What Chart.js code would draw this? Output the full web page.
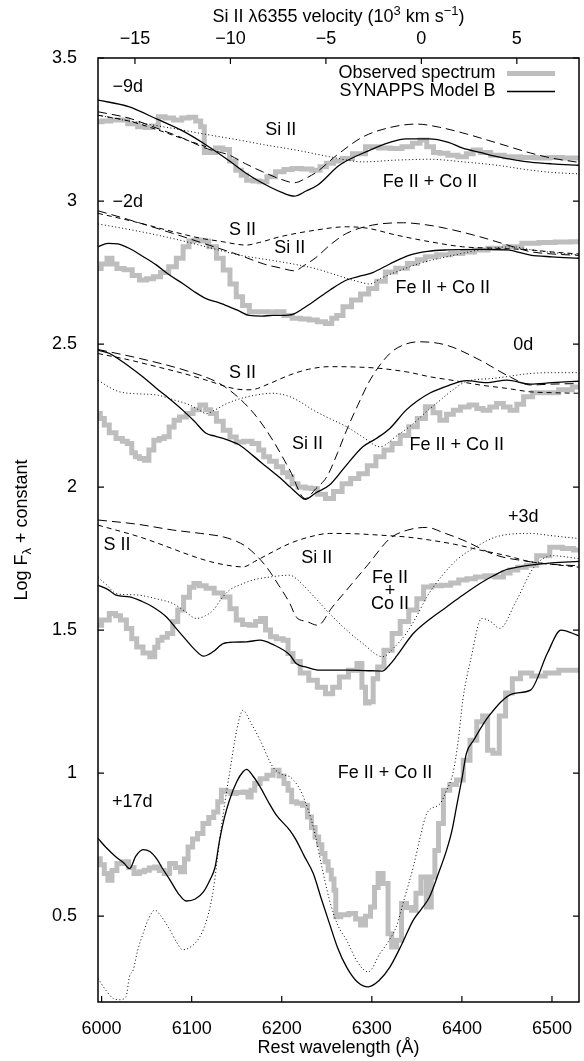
<!DOCTYPE html>
<html>
<head>
<meta charset="utf-8">
<script src="https://cdn.jsdelivr.net/npm/chart.js@4.4.1/dist/chart.umd.min.js"></script>
<style>
  html, body { margin: 0; padding: 0; background: #fff; }
  canvas { display: block; }
</style>
</head>
<body>
<canvas id="chart" width="584" height="1061"></canvas>
<script>
// Axis ranges and tick values
const WAVE_MIN = 5996, WAVE_MAX = 6530;
const LOG_MIN = 0.2, LOG_MAX = 3.5;
const SI_REST = 6355, C_KMS = 299792.458;
const waveTicks = [6000, 6100, 6200, 6300, 6400, 6500];
const velTicks = [-15, -10, -5, 0, 5];
const logTicks = [0.5, 1, 1.5, 2, 2.5, 3, 3.5];

// -9d : [wavelength (Å), log F + constant]
const obsM9 = [[5996,3.277],[6005,3.28],[6015,3.283],[6023,3.283],[6035,3.27],[6045,3.26],[6052,3.257],[6060,3.262],[6066,3.295],[6075,3.29],[6085,3.283],[6093,3.29],[6101,3.293],[6108,3.28],[6112,3.26],[6116,3.17],[6122,3.17],[6131,3.185],[6138,3.18],[6146,3.14],[6152,3.108],[6158,3.09],[6164,3.073],[6172,3.07],[6179,3.067],[6188,3.085],[6198,3.102],[6207,3.11],[6216,3.114],[6228,3.112],[6239,3.108],[6246,3.12],[6253,3.132],[6262,3.14],[6272,3.149],[6285,3.165],[6301,3.19],[6314,3.185],[6327,3.184],[6340,3.19],[6350,3.202],[6357,3.213],[6365,3.19],[6372,3.17],[6379,3.167],[6390,3.16],[6401,3.155],[6409,3.165],[6416,3.178],[6425,3.17],[6439,3.16],[6455,3.155],[6475,3.152],[6490,3.15],[6505,3.152],[6518,3.15],[6530,3.15]];
const modelM9 = [[5996,3.353],[6030,3.33],[6061,3.287],[6090,3.245],[6116,3.196],[6142,3.14],[6160,3.098],[6179,3.062],[6200,3.03],[6214,3.017],[6227,3.035],[6240,3.056],[6264,3.125],[6298,3.178],[6320,3.205],[6338,3.217],[6364,3.217],[6385,3.205],[6401,3.185],[6420,3.17],[6439,3.155],[6460,3.143],[6476,3.136],[6500,3.13],[6530,3.125]];
const siM9 = [[5996,3.312],[6030,3.29],[6061,3.255],[6090,3.22],[6116,3.184],[6142,3.16],[6160,3.13],[6179,3.102],[6200,3.075],[6214,3.064],[6227,3.08],[6239,3.102],[6261,3.16],[6290,3.224],[6320,3.257],[6350,3.269],[6375,3.258],[6401,3.238],[6439,3.203],[6476,3.168],[6500,3.15],[6530,3.135]];
const sM9 = [[5996,3.30],[6030,3.28],[6061,3.25],[6090,3.218],[6116,3.19]];
const feM9 = [[5996,3.30],[6030,3.28],[6079,3.254],[6116,3.233],[6153,3.213],[6180,3.197],[6216,3.178],[6253,3.155],[6290,3.137],[6327,3.143],[6364,3.146],[6401,3.137],[6439,3.125],[6476,3.108],[6500,3.10],[6530,3.095]];

// -2d
const obsM2 = [[5996,2.764],[6003,2.78],[6009,2.80],[6014,2.78],[6020,2.764],[6030,2.76],[6038,2.74],[6046,2.724],[6054,2.728],[6061,2.735],[6070,2.75],[6079,2.77],[6087,2.80],[6094,2.84],[6100,2.86],[6105,2.864],[6114,2.86],[6124,2.84],[6131,2.80],[6139,2.759],[6146,2.71],[6153,2.665],[6160,2.635],[6168,2.613],[6180,2.613],[6190,2.612],[6198,2.613],[6207,2.60],[6216,2.59],[6226,2.588],[6235,2.584],[6244,2.578],[6253,2.572],[6258,2.59],[6264,2.60],[6272,2.63],[6283,2.654],[6292,2.675],[6301,2.694],[6310,2.72],[6320,2.752],[6333,2.765],[6346,2.782],[6355,2.795],[6364,2.805],[6380,2.812],[6394,2.817],[6408,2.822],[6420,2.829],[6438,2.835],[6457,2.84],[6476,2.852],[6495,2.855],[6512,2.857],[6530,2.858]];
const modelM2 = [[5996,2.84],[6007,2.852],[6018,2.85],[6031,2.834],[6046,2.806],[6061,2.776],[6075,2.742],[6090,2.712],[6103,2.683],[6116,2.659],[6130,2.645],[6142,2.63],[6153,2.615],[6164,2.60],[6178,2.598],[6190,2.60],[6200,2.60],[6213,2.605],[6224,2.625],[6235,2.648],[6254,2.69],[6272,2.724],[6290,2.74],[6301,2.75],[6320,2.78],[6342,2.811],[6362,2.824],[6383,2.829],[6420,2.831],[6450,2.829],[6476,2.811],[6500,2.805],[6530,2.80]];
const siM2 = [[5996,2.966],[6030,2.935],[6079,2.887],[6120,2.845],[6153,2.811],[6180,2.78],[6200,2.765],[6214,2.756],[6225,2.775],[6237,2.80],[6255,2.85],[6272,2.887],[6301,2.916],[6335,2.924],[6360,2.917],[6383,2.904],[6420,2.875],[6457,2.84],[6476,2.823],[6500,2.815],[6530,2.81]];
const sM2 = [[5996,2.957],[6040,2.925],[6079,2.893],[6110,2.87],[6134,2.858],[6150,2.849],[6160,2.846],[6175,2.855],[6198,2.875],[6237,2.898],[6272,2.91],[6295,2.905],[6327,2.881],[6364,2.858],[6401,2.84],[6438,2.835],[6476,2.829],[6500,2.822],[6530,2.815]];
const feM2 = [[5996,2.92],[6040,2.895],[6079,2.869],[6116,2.84],[6153,2.811],[6180,2.797],[6209,2.782],[6237,2.764],[6272,2.73],[6290,2.714],[6298,2.71],[6310,2.73],[6327,2.752],[6353,2.782],[6383,2.805],[6420,2.829],[6457,2.84],[6476,2.83],[6500,2.82],[6530,2.812]];

// 0d
const obsD0 = [[5996,2.257],[6001,2.24],[6005,2.217],[6012,2.19],[6020,2.17],[6026,2.16],[6031,2.152],[6036,2.12],[6039,2.106],[6045,2.10],[6050,2.094],[6055,2.13],[6061,2.164],[6067,2.17],[6072,2.176],[6078,2.21],[6083,2.234],[6090,2.245],[6098,2.257],[6105,2.27],[6113,2.287],[6118,2.27],[6124,2.257],[6131,2.23],[6139,2.199],[6146,2.175],[6153,2.158],[6162,2.16],[6172,2.152],[6177,2.13],[6183,2.106],[6190,2.09],[6198,2.071],[6204,2.05],[6209,2.036],[6214,2.012],[6222,2.00],[6230,1.997],[6235,1.995],[6244,1.975],[6253,1.96],[6262,1.985],[6272,2.012],[6281,2.03],[6290,2.047],[6300,2.075],[6309,2.106],[6318,2.13],[6327,2.152],[6336,2.18],[6346,2.211],[6355,2.24],[6364,2.281],[6372,2.26],[6379,2.234],[6387,2.255],[6394,2.269],[6403,2.28],[6413,2.287],[6420,2.275],[6427,2.269],[6435,2.28],[6442,2.292],[6450,2.28],[6457,2.269],[6465,2.29],[6472,2.316],[6485,2.33],[6500,2.33],[6515,2.34],[6530,2.35]];
const modelD0 = [[5996,2.479],[6009,2.467],[6020,2.445],[6031,2.421],[6046,2.385],[6061,2.345],[6076,2.307],[6090,2.269],[6103,2.23],[6116,2.188],[6126,2.178],[6135,2.17],[6153,2.147],[6168,2.11],[6183,2.071],[6197,2.035],[6209,2.001],[6218,1.975],[6226,1.957],[6238,1.98],[6253,2.007],[6270,2.07],[6290,2.141],[6305,2.17],[6320,2.205],[6338,2.269],[6350,2.30],[6364,2.328],[6385,2.355],[6405,2.372],[6427,2.365],[6450,2.374],[6476,2.36],[6500,2.365],[6530,2.37]];
const siD0 = [[5996,2.481],[6042,2.45],[6098,2.403],[6131,2.362],[6153,2.31],[6172,2.246],[6190,2.164],[6209,2.059],[6226,1.96],[6238,1.995],[6250,2.036],[6262,2.12],[6272,2.199],[6285,2.29],[6298,2.374],[6320,2.467],[6336,2.498],[6353,2.508],[6383,2.496],[6420,2.444],[6453,2.386],[6476,2.357],[6500,2.36],[6530,2.362]];
const sD0 = [[5996,2.467],[6030,2.445],[6061,2.421],[6090,2.398],[6116,2.374],[6146,2.345],[6160,2.34],[6168,2.341],[6185,2.36],[6209,2.392],[6230,2.412],[6253,2.421],[6280,2.42],[6309,2.415],[6340,2.402],[6364,2.386],[6392,2.372],[6420,2.357],[6450,2.345],[6476,2.333],[6500,2.33],[6530,2.328]];
const feD0 = [[5996,2.374],[6008,2.35],[6020,2.333],[6040,2.326],[6061,2.322],[6080,2.305],[6098,2.287],[6108,2.27],[6116,2.257],[6126,2.27],[6139,2.292],[6155,2.31],[6172,2.322],[6190,2.328],[6209,2.316],[6222,2.295],[6235,2.269],[6253,2.24],[6272,2.211],[6290,2.175],[6309,2.141],[6328,2.18],[6346,2.222],[6360,2.262],[6376,2.304],[6390,2.34],[6405,2.369],[6435,2.38],[6476,2.397],[6500,2.40],[6530,2.40]];

// +3d
const obsP3 = [[5996,1.517],[6004,1.535],[6013,1.558],[6018,1.55],[6024,1.535],[6031,1.506],[6036,1.47],[6042,1.441],[6050,1.42],[6057,1.407],[6061,1.44],[6064,1.465],[6070,1.475],[6076,1.488],[6082,1.53],[6087,1.57],[6095,1.615],[6100,1.65],[6105,1.663],[6112,1.655],[6120,1.646],[6130,1.63],[6139,1.616],[6146,1.575],[6153,1.535],[6160,1.52],[6168,1.517],[6174,1.53],[6179,1.541],[6185,1.50],[6190,1.477],[6198,1.47],[6205,1.465],[6209,1.418],[6216,1.39],[6225,1.35],[6235,1.325],[6244,1.30],[6253,1.278],[6260,1.30],[6268,1.336],[6280,1.36],[6287,1.383],[6291,1.30],[6295,1.245],[6299,1.25],[6304,1.33],[6309,1.371],[6318,1.43],[6327,1.488],[6336,1.53],[6346,1.57],[6354,1.61],[6361,1.651],[6372,1.655],[6383,1.657],[6392,1.665],[6401,1.675],[6410,1.68],[6420,1.686],[6431,1.69],[6442,1.686],[6450,1.70],[6457,1.71],[6467,1.72],[6476,1.727],[6490,1.76],[6505,1.79],[6518,1.785],[6530,1.78]];
const modelP3 = [[5996,1.657],[6008,1.64],[6016,1.622],[6031,1.616],[6045,1.60],[6057,1.581],[6072,1.546],[6083,1.505],[6094,1.465],[6104,1.43],[6113,1.409],[6124,1.425],[6135,1.453],[6148,1.458],[6161,1.459],[6176,1.465],[6190,1.45],[6209,1.413],[6216,1.383],[6228,1.37],[6242,1.36],[6272,1.36],[6300,1.358],[6312,1.357],[6320,1.38],[6327,1.407],[6346,1.488],[6365,1.54],[6383,1.581],[6400,1.62],[6420,1.663],[6435,1.69],[6450,1.712],[6465,1.722],[6476,1.727],[6500,1.735],[6530,1.74]];
const siP3 = [[5996,1.885],[6040,1.87],[6079,1.85],[6110,1.838],[6135,1.826],[6150,1.81],[6161,1.791],[6172,1.76],[6183,1.721],[6196,1.66],[6209,1.593],[6216,1.546],[6228,1.53],[6240,1.517],[6256,1.58],[6272,1.64],[6296,1.73],[6320,1.82],[6340,1.85],[6361,1.859],[6380,1.84],[6401,1.815],[6438,1.762],[6476,1.739],[6500,1.73],[6530,1.725]];
const sP3 = [[5996,1.867],[6042,1.826],[6070,1.795],[6098,1.762],[6120,1.74],[6139,1.727],[6157,1.721],[6170,1.74],[6183,1.762],[6209,1.803],[6230,1.825],[6253,1.838],[6280,1.837],[6309,1.832],[6340,1.825],[6364,1.815],[6392,1.80],[6420,1.78],[6450,1.76],[6476,1.739],[6500,1.73],[6530,1.72]];
const feP3 = [[5996,1.684],[6005,1.66],[6016,1.628],[6030,1.624],[6042,1.622],[6060,1.61],[6079,1.593],[6093,1.565],[6105,1.541],[6115,1.55],[6124,1.57],[6133,1.61],[6142,1.64],[6155,1.66],[6168,1.675],[6190,1.687],[6209,1.692],[6216,1.68],[6235,1.62],[6253,1.558],[6272,1.50],[6290,1.453],[6312,1.407],[6325,1.44],[6338,1.488],[6350,1.55],[6361,1.616],[6378,1.69],[6394,1.745],[6415,1.79],[6438,1.826],[6476,1.838],[6500,1.83],[6530,1.82]];

// +17d
const obsP17 = [[5996,0.701],[6001,0.68],[6005,0.649],[6009,0.626],[6014,0.66],[6020,0.684],[6027,0.69],[6033,0.67],[6039,0.649],[6045,0.655],[6050,0.661],[6056,0.668],[6061,0.672],[6067,0.66],[6072,0.649],[6079,0.684],[6085,0.67],[6090,0.655],[6094,0.70],[6098,0.742],[6104,0.77],[6109,0.789],[6116,0.824],[6122,0.845],[6127,0.864],[6131,0.90],[6135,0.94],[6141,0.935],[6146,0.929],[6153,0.932],[6161,0.934],[6164,0.917],[6168,0.94],[6172,0.964],[6180,0.98],[6187,0.993],[6194,1.01],[6200,0.99],[6205,0.964],[6209,0.94],[6213,0.90],[6220,0.895],[6226,0.888],[6231,0.847],[6235,0.81],[6239,0.777],[6243,0.75],[6246,0.719],[6250,0.69],[6253,0.661],[6257,0.63],[6259,0.591],[6261,0.498],[6270,0.505],[6279,0.509],[6285,0.49],[6290,0.469],[6296,0.50],[6301,0.532],[6305,0.60],[6309,0.649],[6316,0.614],[6320,0.439],[6324,0.392],[6331,0.416],[6335,0.544],[6342,0.53],[6346,0.521],[6352,0.58],[6357,0.637],[6364,0.532],[6368,0.637],[6372,0.73],[6376,0.824],[6383,0.94],[6390,0.96],[6398,0.976],[6405,1.045],[6413,1.115],[6420,1.18],[6426,1.2],[6431,1.08],[6438,1.07],[6445,1.2],[6452,1.28],[6460,1.33],[6470,1.35],[6485,1.34],[6500,1.35],[6515,1.36],[6530,1.36]];
const modelP17 = [[5996,0.772],[6005,0.74],[6016,0.707],[6025,0.685],[6031,0.666],[6038,0.71],[6046,0.733],[6054,0.725],[6061,0.701],[6068,0.665],[6076,0.626],[6085,0.58],[6094,0.553],[6104,0.56],[6113,0.585],[6120,0.625],[6126,0.672],[6131,0.766],[6136,0.84],[6142,0.906],[6150,0.97],[6157,1.005],[6161,1.013],[6168,0.99],[6176,0.952],[6185,0.90],[6194,0.853],[6209,0.80],[6216,0.766],[6225,0.71],[6235,0.649],[6244,0.56],[6253,0.474],[6262,0.39],[6272,0.322],[6284,0.27],[6296,0.253],[6308,0.275],[6320,0.322],[6333,0.40],[6346,0.486],[6355,0.525],[6364,0.567],[6374,0.65],[6383,0.731],[6389,0.80],[6394,0.882],[6400,0.98],[6405,1.069],[6413,1.115],[6430,1.2],[6457,1.278],[6476,1.29],[6495,1.42],[6510,1.50],[6530,1.48]];
const feP17 = [[5996,0.282],[6005,0.24],[6013,0.212],[6020,0.208],[6027,0.218],[6031,0.29],[6035,0.311],[6040,0.38],[6046,0.439],[6052,0.49],[6059,0.521],[6066,0.50],[6076,0.451],[6083,0.41],[6090,0.383],[6100,0.395],[6109,0.428],[6117,0.49],[6124,0.591],[6131,0.766],[6137,0.90],[6142,0.999],[6150,1.15],[6157,1.22],[6165,1.18],[6176,1.115],[6190,1.022],[6200,0.996],[6209,0.987],[6218,0.955],[6224,0.917],[6235,0.812],[6244,0.68],[6253,0.556],[6262,0.47],[6272,0.416],[6284,0.34],[6296,0.305],[6309,0.369],[6318,0.41],[6327,0.462],[6336,0.56],[6346,0.672],[6354,0.78],[6361,0.859],[6376,0.894],[6383,0.94],[6390,0.999],[6396,1.115],[6401,1.255],[6410,1.4],[6422,1.541],[6432,1.53],[6442,1.506],[6460,1.6],[6480,1.72],[6500,1.76],[6530,1.75]];

// Text placed inside the plot: label, wavelength, log F (text centre)
const noteText = ['\u22129d', '\u22122d', '0d', '+3d', '+17d',
  'Si II', 'Fe II + Co II',
  'S II', 'Si II', 'Fe II + Co II',
  'S II', 'Si II', 'Fe II + Co II',
  'S II', 'Si II', 'Fe II', '+', 'Co II',
  'Fe II + Co II'];
const noteWave = [6029, 6029, 6468, 6468, 6034,
  6199, 6364.6,
  6156.4, 6209, 6378.8,
  6156.4, 6228.6, 6394.2,
  6017, 6238.8, 6320.2, 6320.2, 6320.2,
  6314.6];
const noteLog = [3.397, 2.995, 2.497, 1.894, 0.900,
  3.248, 3.068,
  2.899, 2.834, 2.695,
  2.40, 2.151, 2.147,
  1.798, 1.751, 1.681, 1.638, 1.591,
  1.002];

const legendNames = ['Observed spectrum', 'SYNAPPS Model B'];

const FONT = '"Liberation Sans", Arial, Helvetica, sans-serif';
const toVel = w => (w / SI_REST - 1) * C_KMS / 1000;
const fmtMinus = v => (v < 0 ? '\u2212' + Math.abs(v) : String(v));
const pts = arr => arr.map(p => ({ x: p[0], y: p[1] }));

const OBS_STYLE = { borderColor: '#bebebe', borderWidth: 5, stepped: 'middle', order: 10 };
const MODEL_STYLE = { borderColor: '#000', borderWidth: 1.3, cubicInterpolationMode: 'monotone', order: 1 };
const SI_STYLE = { borderColor: '#000', borderWidth: 1, borderDash: [9, 5], cubicInterpolationMode: 'monotone', order: 2 };
const S_STYLE = { borderColor: '#000', borderWidth: 1, borderDash: [5, 4], cubicInterpolationMode: 'monotone', order: 3 };
const FE_STYLE = { borderColor: '#000', borderWidth: 1, borderDash: [1, 2.5], cubicInterpolationMode: 'monotone', order: 4 };

const datasets = [];
function add(label, arr, style) {
  datasets.push(Object.assign({ label, data: pts(arr), pointRadius: 0, fill: false }, style));
}
add('Observed spectrum', obsM9, OBS_STYLE);
add('Observed spectrum', obsM2, OBS_STYLE);
add('Observed spectrum', obsD0, OBS_STYLE);
add('Observed spectrum', obsP3, OBS_STYLE);
add('Observed spectrum', obsP17, OBS_STYLE);
add('Si II', siM9, SI_STYLE);
add('S II', sM9, S_STYLE);
add('Fe II + Co II', feM9, FE_STYLE);
add('Si II', siM2, SI_STYLE);
add('S II', sM2, S_STYLE);
add('Fe II + Co II', feM2, FE_STYLE);
add('Si II', siD0, SI_STYLE);
add('S II', sD0, S_STYLE);
add('Fe II + Co II', feD0, FE_STYLE);
add('Si II', siP3, SI_STYLE);
add('S II', sP3, S_STYLE);
add('Fe II + Co II', feP3, FE_STYLE);
add('Fe II + Co II', feP17, FE_STYLE);
add('SYNAPPS Model B', modelM9, MODEL_STYLE);
add('SYNAPPS Model B', modelM2, MODEL_STYLE);
add('SYNAPPS Model B', modelD0, MODEL_STYLE);
add('SYNAPPS Model B', modelP3, MODEL_STYLE);
add('SYNAPPS Model B', modelP17, MODEL_STYLE);

// Draw a run of text pieces, some raised or lowered, starting at x
function drawRich(ctx, parts, x, y, align) {
  let total = 0;
  parts.forEach(p => { ctx.font = (p.small ? '13px ' : '18px ') + FONT; total += ctx.measureText(p.t).width; });
  let cx = align === 'center' ? x - total / 2 : x;
  ctx.textAlign = 'left';
  ctx.textBaseline = 'middle';
  parts.forEach(p => {
    ctx.font = (p.small ? '13px ' : '18px ') + FONT;
    ctx.fillText(p.t, cx, y + (p.shift || 0));
    cx += ctx.measureText(p.t).width;
  });
}

const framePlugin = {
  id: 'frame',
  afterDraw(chart) {
    const { ctx, chartArea: a, scales } = chart;
    const sx = scales.x, sy = scales.y, sv = scales.x2;
    ctx.save();
    ctx.strokeStyle = '#000';
    ctx.fillStyle = '#000';
    // frame
    ctx.lineWidth = 1.5;
    ctx.strokeRect(a.left, a.top, a.right - a.left, a.bottom - a.top);
    // inward tick marks
    ctx.lineWidth = 1.2;
    ctx.beginPath();
    const TL = 6;
    waveTicks.forEach(w => { const px = sx.getPixelForValue(w); ctx.moveTo(px, a.bottom); ctx.lineTo(px, a.bottom - TL); });
    velTicks.forEach(v => { const px = sv.getPixelForValue(v); ctx.moveTo(px, a.top); ctx.lineTo(px, a.top + TL); });
    logTicks.forEach(v => {
      const py = sy.getPixelForValue(v);
      ctx.moveTo(a.left, py); ctx.lineTo(a.left + TL, py);
      ctx.moveTo(a.right, py); ctx.lineTo(a.right - TL, py);
    });
    ctx.stroke();

    // notes inside the plot
    ctx.font = '18px ' + FONT;
    ctx.textAlign = 'center';
    ctx.textBaseline = 'middle';
    noteText.forEach((t, i) => {
      ctx.fillText(t, sx.getPixelForValue(noteWave[i]), sy.getPixelForValue(noteLog[i]));
    });

    // legend
    const legY = [a.top + 15.5, a.top + 33.5];
    const styles = [OBS_STYLE, MODEL_STYLE];
    ctx.textAlign = 'right';
    legendNames.forEach((name, i) => {
      ctx.fillText(name, a.left + 397.5, legY[i]);
      ctx.save();
      ctx.strokeStyle = styles[i].borderColor;
      ctx.lineWidth = styles[i].borderWidth;
      ctx.beginPath();
      ctx.moveTo(a.left + 409, legY[i]);
      ctx.lineTo(a.left + 457, legY[i]);
      ctx.stroke();
      ctx.restore();
    });

    // axis titles
    const midX = (a.left + a.right) / 2;
    drawRich(ctx, [{ t: 'Si II \u03bb6355 velocity (10' }, { t: '3', small: true, shift: -6 },
      { t: ' km s' }, { t: '\u22121', small: true, shift: -6 }, { t: ')' }], midX, 17, 'center');
    drawRich(ctx, [{ t: 'Rest wavelength (\u00c5)' }], midX, 1048, 'center');
    ctx.save();
    ctx.translate(22, (a.top + a.bottom) / 2);
    ctx.rotate(-Math.PI / 2);
    drawRich(ctx, [{ t: 'Log F' }, { t: '\u03bb', small: true, shift: 5 }, { t: ' + constant' }], 0, 0, 'center');
    ctx.restore();
    ctx.restore();
  }
};

const tickFont = { family: FONT, size: 18 };

new Chart(document.getElementById('chart'), {
  type: 'line',
  data: { datasets },
  options: {
    responsive: false,
    animation: false,
    devicePixelRatio: 1,
    layout: { padding: { left: 0, right: 5, top: 0, bottom: 0 } },
    plugins: { legend: { display: false }, tooltip: { enabled: false } },
    scales: {
      x: {
        type: 'linear', position: 'bottom', min: WAVE_MIN, max: WAVE_MAX,
        afterBuildTicks: s => { s.ticks = waveTicks.map(v => ({ value: v })); },
        afterFit: s => { s.height = 59; },
        grid: { display: false }, border: { display: false },
        ticks: { font: tickFont, color: '#000', padding: 8, maxRotation: 0, autoSkip: false, callback: v => String(v) }
      },
      x2: {
        type: 'linear', position: 'top', min: toVel(WAVE_MIN), max: toVel(WAVE_MAX),
        afterBuildTicks: s => { s.ticks = velTicks.map(v => ({ value: v })); },
        afterFit: s => { s.height = 58; },
        grid: { display: false }, border: { display: false },
        ticks: { font: tickFont, color: '#000', padding: 0, maxRotation: 0, autoSkip: false, callback: v => fmtMinus(v) }
      },
      y: {
        type: 'linear', position: 'left', min: LOG_MIN, max: LOG_MAX,
        afterBuildTicks: s => { s.ticks = logTicks.map(v => ({ value: v })); },
        afterFit: s => { s.width = 98; },
        grid: { display: false }, border: { display: false },
        ticks: { font: tickFont, color: '#000', padding: 13, autoSkip: false, callback: v => String(v) }
      }
    }
  },
  plugins: [framePlugin]
});
</script>
</body>
</html>
